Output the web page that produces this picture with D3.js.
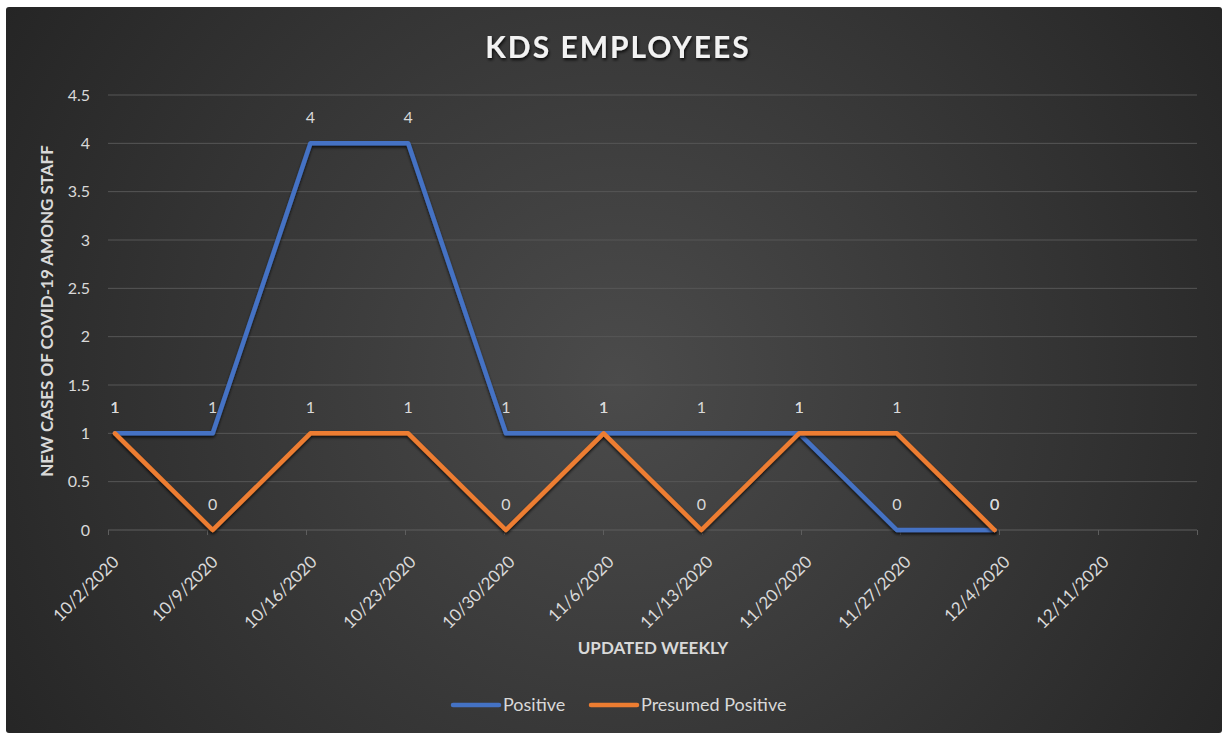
<!DOCTYPE html>
<html>
<head>
<meta charset="utf-8">
<script src="https://cdn.jsdelivr.net/npm/d3@7"></script>
<style>
  body { margin: 0; background: #fff; }
  text { font-family: Lato, "Open Sans", sans-serif; fill: #d9d9d9; }
</style>
</head>
<body>
<div id="chart"></div>
<script>
const width = 1222, height = 735;

// data
var dateLabels = ["10/2/2020", "10/9/2020", "10/16/2020", "10/23/2020", "10/30/2020", "11/6/2020",
                  "11/13/2020", "11/20/2020", "11/27/2020", "12/4/2020", "12/11/2020"];
var positive = [1, 1, 4, 4, 1, 1, 1, 1, 0, 0];
var presumed = [1, 0, 1, 1, 0, 1, 0, 1, 1, 0];
var yTicks = [0, 0.5, 1, 1.5, 2, 2.5, 3, 3.5, 4, 4.5];
var seriesNames = ["Positive", "Presumed Positive"];
var seriesColors = ["#4472C4", "#ED7D31"];

// date axis: 78 days from 10/2, each point centred on its day
const x = d3.scaleLinear().domain([0, 78]).range([108, 1197]);
// tick marks / labels spread evenly (one per week, plus closing tick)
const xt = d3.scalePoint().domain(d3.range(dateLabels.length + 1)).range([108, 1197]);
const y = d3.scaleLinear().domain([0, 4.5]).range([530, 95]);

const svg = d3.select("#chart").append("svg")
    .attr("width", width)
    .attr("height", height);

const defs = svg.append("defs");
const grad = defs.append("radialGradient")
    .attr("id", "bg")
    .attr("gradientUnits", "userSpaceOnUse")
    .attr("cx", 620).attr("cy", 380).attr("r", 720);
grad.append("stop").attr("offset", "0%").attr("stop-color", "#4b4b4b");
grad.append("stop").attr("offset", "100%").attr("stop-color", "#252525");

const shadow = defs.append("filter").attr("id", "shadow")
    .attr("x", "-10%").attr("y", "-10%").attr("width", "120%").attr("height", "130%");
shadow.append("feDropShadow")
    .attr("dx", 0).attr("dy", 2).attr("stdDeviation", 1.6)
    .attr("flood-color", "#000").attr("flood-opacity", 0.75);

const tshadow = defs.append("filter").attr("id", "tshadow");
tshadow.append("feDropShadow")
    .attr("dx", 1).attr("dy", 2).attr("stdDeviation", 1.5)
    .attr("flood-color", "#000").attr("flood-opacity", 0.8);

svg.append("rect")
    .attr("x", 6).attr("y", 7)
    .attr("width", 1216).attr("height", 726)
    .attr("rx", 3)
    .attr("fill", "url(#bg)");

// title
svg.append("text")
    .attr("x", 618).attr("y", 58)
    .attr("text-anchor", "middle")
    .style("font-size", "30px")
    .style("font-weight", "700")
    .style("letter-spacing", "2px")
    .style("fill", "#f2f2f2")
    .attr("filter", "url(#tshadow)")
    .text("KDS EMPLOYEES");

// gridlines
svg.append("g").selectAll("line")
    .data(yTicks.filter(d => d > 0))
    .enter().append("line")
    .attr("x1", x(0)).attr("x2", x(78))
    .attr("y1", d => y(d)).attr("y2", d => y(d))
    .attr("stroke", "#575757").attr("stroke-width", 1);

// y tick labels
svg.append("g").selectAll("text")
    .data(yTicks)
    .enter().append("text")
    .attr("x", 90).attr("y", d => y(d))
    .attr("dy", "0.36em")
    .attr("text-anchor", "end")
    .style("font-size", "16px")
    .text(d => d);

// x axis
const xAxis = d3.axisBottom(xt)
    .tickSize(5)
    .tickFormat("");
const gx = svg.append("g")
    .attr("transform", "translate(0," + y(0) + ")")
    .call(xAxis);
gx.select(".domain").attr("stroke", "#5e5e5e").attr("d", "M" + x(0) + ",0H" + x(78));
gx.selectAll(".tick line").attr("stroke", "#5e5e5e");

svg.append("g").selectAll("text")
    .data(dateLabels)
    .enter().append("text")
    .attr("transform", (d, i) => "translate(" + (xt(i) + 12) + ",563) rotate(-45)")
    .attr("text-anchor", "end")
    .style("font-size", "17px")
    .text(d => d);

// axis titles
svg.append("text")
    .attr("transform", "translate(53,311) rotate(-90)")
    .attr("text-anchor", "middle")
    .style("font-size", "17px")
    .style("font-weight", "700")
    .text("NEW CASES OF COVID-19 AMONG STAFF");

svg.append("text")
    .attr("x", 653).attr("y", 654)
    .attr("text-anchor", "middle")
    .style("font-size", "17px")
    .style("font-weight", "700")
    .text("UPDATED WEEKLY");

// lines
const line = d3.line()
    .x((d, i) => x(i * 7 + 0.5))
    .y(d => y(d));

[positive, presumed].forEach(function(vals, k) {
    svg.append("path")
        .datum(vals)
        .attr("d", line)
        .attr("fill", "none")
        .attr("stroke", seriesColors[k])
        .attr("stroke-width", 4.5)
        .attr("stroke-linejoin", "round")
        .attr("stroke-linecap", "round")
        .attr("filter", "url(#shadow)");
});

// data labels
[positive, presumed].forEach(function(vals) {
    svg.append("g").selectAll("text")
        .data(vals)
        .enter().append("text")
        .attr("x", (d, i) => x(i * 7 + 0.5))
        .attr("y", d => y(d) - 20)
        .attr("text-anchor", "middle")
        .style("font-size", "16px")
        .text(d => d);
});

// legend
const legendX = [453, 591];
seriesNames.forEach(function(name, k) {
    svg.append("line")
        .attr("x1", legendX[k]).attr("x2", legendX[k] + 46)
        .attr("y1", 705).attr("y2", 705)
        .attr("stroke", seriesColors[k])
        .attr("stroke-width", 4.5)
        .attr("stroke-linecap", "round");
    svg.append("text")
        .attr("x", legendX[k] + 50).attr("y", 705)
        .attr("dy", "0.36em")
        .style("font-size", "18px")
        .text(name);
});
</script>
</body>
</html>
